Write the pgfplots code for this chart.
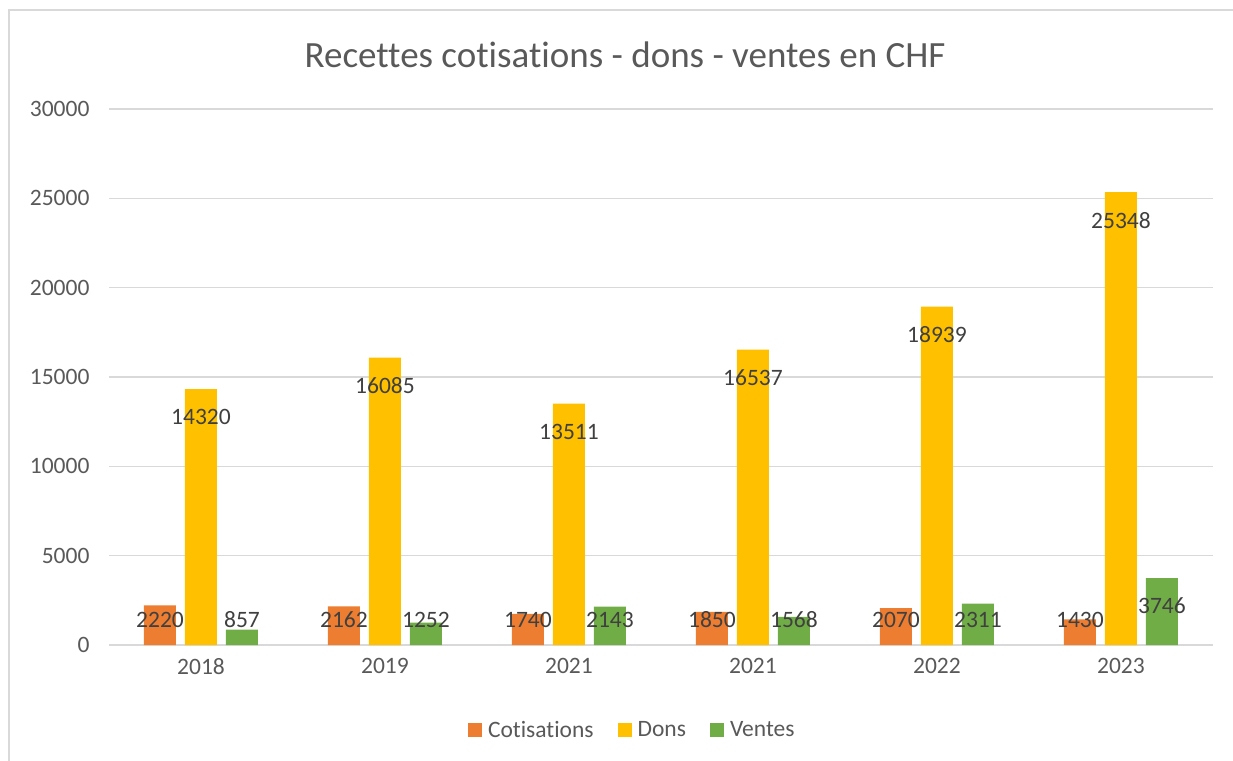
\documentclass[border=0pt]{standalone}
\usepackage{pgfplots}
\pgfplotsset{compat=1.18}
\usepackage{pgfplotstable}
\usepackage{fontspec}
\setmainfont{Carlito}[Ligatures=NoCommon]
\definecolor{cOr}{HTML}{ED7D31}
\definecolor{cGo}{HTML}{FFC000}
\definecolor{cGr}{HTML}{70AD47}
\definecolor{cGrid}{HTML}{D9D9D9}
\definecolor{cTxt}{HTML}{595959}
\definecolor{cLab}{HTML}{404040}

\pgfplotstableread{
x y
0 2220
1 2162
2 1740
3 1850
4 2070
5 1430
}\cotis
\pgfplotstableread{
x y
0 14320
1 16085
2 13511
3 16537
4 18939
5 25348
}\dons
\pgfplotstableread{
x y
0 857
1 1252
2 2143
3 1568
4 2311
5 3746
}\ventes
% label positions (inside end, clamped near the base)
\pgfplotstableread{
x y label
0 1399 2220
1 1399 2162
2 1399 1740
3 1399 1850
4 1399 2070
5 1399 1430
}\cotisL
\pgfplotstableread{
x y label
0 12753 14320
1 14518 16085
2 11944 13511
3 14970 16537
4 17372 18939
5 23781 25348
}\donsL
\pgfplotstableread{
x y label
0 1399 857
1 1399 1252
2 1399 2143
3 1399 1568
4 1399 2311
5 2179 3746
}\ventesL

\begin{document}
\begin{tikzpicture}[x=1pt,y=1pt]
\useasboundingbox (0,0) rectangle (1233,760);
\draw[cGrid, line width=1.3pt] (9,-5) -- (9,750) -- (1240,750);
\node[text=cTxt, font=\fontsize{37}{44}\selectfont] at (625,705) {Recettes cotisations - dons - ventes en CHF};
\begin{axis}[
  at={(109pt,115pt)}, anchor=south west,
  scale only axis, width=1104pt, height=536pt,
  xmin=-0.5, xmax=5.5, ymin=0, ymax=30000,
  xtick={0,1,2,3,4,5},
  xticklabels={2018,2019,2021,2021,2022,2023},
  ytick={0,5000,10000,15000,20000,25000,30000},
  /pgf/number format/assume math mode=true,
  /pgf/number format/.cd, set thousands separator={}, /pgfplots/.cd,
  scaled y ticks=false,
  ymajorgrids, grid style={cGrid, line width=1.3pt},
  axis x line*=bottom, axis y line*=left,
  x axis line style={cGrid, line width=1.3pt, -},
  y axis line style={draw=none},
  major tick length=0pt,
  tick label style={text=cTxt, font=\fontsize{23.5}{28}\selectfont},
  yticklabel style={xshift=-16pt},
  xticklabel style={yshift=-10pt},
  legend style={at={(axis description cs:0.474,-0.1586)}, anchor=center,
    draw=none, legend columns=-1, text=cTxt,
    font=\fontsize{23.5}{28}\selectfont,
    nodes={inner sep=2pt},
    /tikz/every odd column/.append style={column sep=4pt},
    /tikz/every even column/.append style={column sep=22pt}},
  legend image code/.code={\fill[#1] (0pt,-7pt) rectangle (14pt,7pt);},
  clip=false,
]
\addplot[ybar, bar width=32pt, bar shift=-41pt, fill=cOr, draw=none] table[x=x,y=y] {\cotis};
\addplot[ybar, bar width=32pt, bar shift=0pt, fill=cGo, draw=none] table[x=x,y=y] {\dons};
\addplot[ybar, bar width=32pt, bar shift=41pt, fill=cGr, draw=none] table[x=x,y=y] {\ventes};
\legend{Cotisations,Dons,Ventes}
\addplot[draw=none, mark=none, forget plot, nodes near coords, point meta=explicit symbolic,
  every node near coord/.append style={anchor=center, xshift=-41pt, text=cLab, font=\fontsize{23.5}{28}\selectfont, inner sep=0pt}]
  table[x=x,y=y,meta=label] {\cotisL};
\addplot[draw=none, mark=none, forget plot, nodes near coords, point meta=explicit symbolic,
  every node near coord/.append style={anchor=center, text=cLab, font=\fontsize{23.5}{28}\selectfont, inner sep=0pt}]
  table[x=x,y=y,meta=label] {\donsL};
\addplot[draw=none, mark=none, forget plot, nodes near coords, point meta=explicit symbolic,
  every node near coord/.append style={anchor=center, xshift=41pt, text=cLab, font=\fontsize{23.5}{28}\selectfont, inner sep=0pt}]
  table[x=x,y=y,meta=label] {\ventesL};
\end{axis}
\end{tikzpicture}
\end{document}
